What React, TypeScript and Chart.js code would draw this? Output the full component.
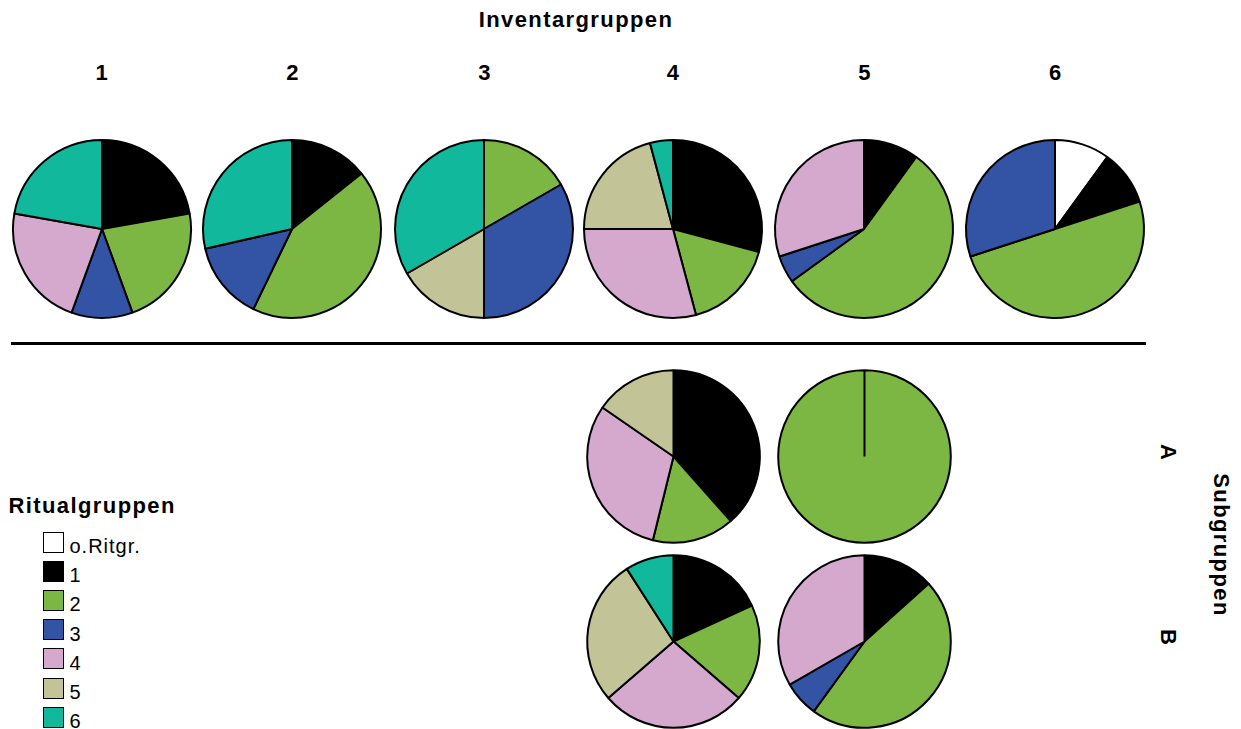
import React, { useEffect, useRef } from "react";
import { Chart, registerables } from "chart.js";

Chart.register(...registerables);

const ritualLabels = ["o.Ritgr.", "1", "2", "3", "4", "5", "6"];
const ritualColors = ["#FFFFFF", "#000000", "#7DB743", "#3353A4", "#D4A9CD", "#C2C497", "#11B89C"];

const inventarLabels = ["1", "2", "3", "4", "5", "6"];
const inv1 = [0, 2, 2, 1, 2, 0, 2];
const inv2 = [0, 1, 3, 1, 0, 0, 2];
const inv3 = [0, 0, 1, 2, 0, 1, 2];
const inv4 = [0, 7, 4, 0, 7, 5, 1];
const inv5 = [0, 2, 11, 1, 6, 0, 0];
const inv6 = [1, 1, 5, 3, 0, 0, 0];
const subA4 = [0, 5, 2, 0, 4, 2, 0];
const subA5 = [0, 0, 1, 0, 0, 0, 0];
const subB4 = [0, 2, 2, 0, 3, 3, 1];
const subB5 = [0, 2, 7, 1, 5, 0, 0];

const topRow = [inv1, inv2, inv3, inv4, inv5, inv6];
const topX = [101.7, 292.3, 484.3, 672.8, 864.3, 1055];
const topY = 228.5;
const subRows = [
  { label: "A", y: 456, data: [subA4, subA5] },
  { label: "B", y: 641.2, data: [subB4, subB5] },
];
const subX = [673.3, 864.3];

const FONT = "'Liberation Sans', Arial, Helvetica, sans-serif";

function Pie({ data, cx, cy, r }: { data: number[]; cx: number; cy: number; r: number }) {
  const ref = useRef<HTMLCanvasElement | null>(null);
  const size = Math.ceil(r * 2 + 10);
  useEffect(() => {
    if (!ref.current) return;
    const chart = new Chart(ref.current, {
      type: "pie",
      data: {
        labels: ritualLabels,
        datasets: [
          {
            data,
            backgroundColor: ritualColors,
            borderColor: "#000000",
            borderWidth: 2,
          },
        ],
      },
      options: {
        responsive: false,
        maintainAspectRatio: false,
        animation: false,
        radius: r,
        layout: { padding: 0 },
        plugins: { legend: { display: false }, tooltip: { enabled: false }, title: { display: false } },
      } as any,
    });
    return () => chart.destroy();
  }, []);
  return (
    <canvas
      ref={ref}
      width={size}
      height={size}
      style={{ position: "absolute", left: cx - size / 2, top: cy - size / 2, width: size, height: size }}
    />
  );
}

const boldText: React.CSSProperties = {
  position: "absolute",
  fontFamily: FONT,
  fontWeight: "bold",
  fontSize: 22,
  lineHeight: "22px",
  letterSpacing: "1.4px",
  whiteSpace: "nowrap",
  color: "#000",
};

export default function App() {
  return (
    <div
      style={{
        position: "fixed",
        left: 0,
        top: 0,
        width: 1241,
        height: 729,
        background: "#fff",
        overflow: "hidden",
      }}
    >
      <div style={{ ...boldText, left: 576, top: 8.5, transform: "translateX(-50%)" }}>Inventargruppen</div>
      {inventarLabels.map((l, i) => (
        <div key={l} style={{ ...boldText, letterSpacing: 0, left: topX[i], top: 61.5, transform: "translateX(-50%)" }}>
          {l}
        </div>
      ))}
      {topRow.map((d, i) => (
        <Pie key={"t" + i} data={d} cx={topX[i]} cy={topY} r={89} />
      ))}
      <div style={{ position: "absolute", left: 11, top: 342, width: 1135, height: 2.5, background: "#000" }} />
      {subRows.map((row) =>
        row.data.map((d, j) => <Pie key={row.label + j} data={d} cx={subX[j]} cy={row.y} r={86.3} />)
      )}
      {subRows.map((row) => (
        <div
          key={"lab" + row.label}
          style={{
            ...boldText,
            letterSpacing: 0,
            left: 1168,
            top: row.y - 4,
            transform: "translate(-50%, -50%) rotate(90deg)",
          }}
        >
          {row.label}
        </div>
      ))}
      <div
        style={{
          ...boldText,
          left: 1221,
          top: 545,
          transform: "translate(-50%, -50%) rotate(90deg)",
        }}
      >
        Subgruppen
      </div>
      <div style={{ ...boldText, left: 8.5, top: 494.7 }}>Ritualgruppen</div>
      {ritualLabels.map((l, i) => {
        const top = 531.5 + i * 29.2;
        return (
          <React.Fragment key={"lg" + l}>
            <div
              style={{
                position: "absolute",
                left: 42.5,
                top,
                width: 21,
                height: 21,
                boxSizing: "border-box",
                border: "1.5px solid #000",
                background: ritualColors[i],
              }}
            />
            <div
              style={{
                position: "absolute",
                left: 69.5,
                top: top + 21 - 16.5,
                fontFamily: FONT,
                fontSize: 20,
                lineHeight: "20px",
                letterSpacing: "1px",
                whiteSpace: "nowrap",
                color: "#000",
              }}
            >
              {l}
            </div>
          </React.Fragment>
        );
      })}
    </div>
  );
}
